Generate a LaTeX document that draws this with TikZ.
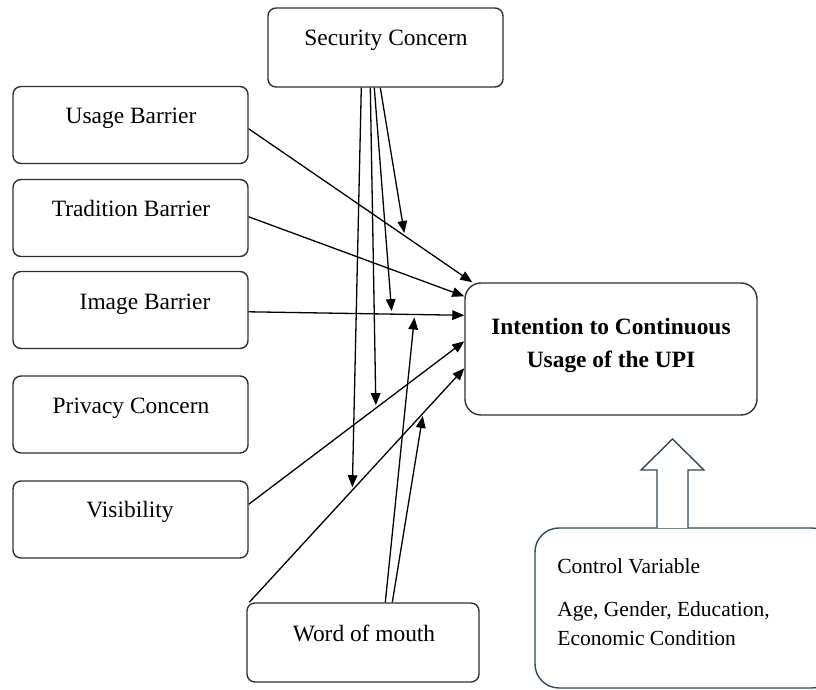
\documentclass[tikz,border=0pt]{standalone}
\usepackage{fontspec}
\setmainfont{Liberation Serif}
\usetikzlibrary{arrows.meta,calc}
\definecolor{slate}{HTML}{2F4858}
\definecolor{edge}{HTML}{303030}
\begin{document}
\begin{tikzpicture}[x=0.5pt,y=-0.5pt,
  box/.style={draw=edge, line width=0.7pt, rounded corners=4pt,
    minimum width=117.5pt, minimum height=38.5pt, inner sep=0pt},
  lbl/.style={inner sep=0pt, anchor=base, font=\fontsize{11.7pt}{14pt}\selectfont},
  arr/.style={-{Triangle[length=6pt,width=4.8pt]}, line width=0.65pt},
  stop/.style={shorten >=1.5pt}
]
\clip (0,0) rectangle (816,690);

% ---- source boxes ----
\node[box] (sec)    at (385.5,47.5) [minimum height=39.5pt] {};
\node[box] (usage)  at (130.5,125)   {};
\node[box] (trad)   at (130.5,218)   {};
\node[box] (image)  at (130.5,310)   {};
\node[box] (priv)   at (130.5,414.5) {};
\node[box] (visib)  at (130.5,519.5) {};
\node[box] (wom)    at (363,642.5) [minimum width=116pt, minimum height=39.5pt] {};

\node[lbl] (secT)   at (386,46)    {Security Concern};
\node[lbl] (usageT) at (131,124)   {Usage Barrier};
\node[lbl] (tradT)  at (131,217)   {Tradition Barrier};
\node[lbl] (imageT) at (145,310)   {Image Barrier};
\node[lbl] (privT)  at (131,414)   {Privacy Concern};
\node[lbl] (visibT) at (130,518)   {Visibility};
\node[lbl] (womT)   at (364,642)   {Word of mouth};

% ---- outcome box ----
\node[box, rounded corners=8pt, minimum width=146pt, minimum height=66pt]
  (intent) at (611,349) {};
\node[inner sep=0pt, anchor=north, align=center,
  font=\fontsize{11.7pt}{16.5pt}\selectfont\bfseries]
  (intentT) at (611,318) {Intention to Continuous\\Usage of the UPI};

% ---- control variables ----
\node[draw=slate, line width=0.7pt, rounded corners=12pt,
  minimum width=150.5pt, minimum height=80pt, inner sep=0pt]
  (ctrl) at (685.5,608) {};
\node[inner sep=0pt, anchor=north west, align=left,
  font=\fontsize{10.75pt}{14.5pt}\selectfont]
  (ctrlT) at (557,558.3) {Control Variable\\[7pt]Age, Gender, Education,\\Economic Condition};

% hollow block arrow from the control box up to the outcome
\coordinate (ab) at (672.5,528);
\draw[slate, line width=0.7pt, fill=white, line join=miter]
  ($(ab)+(-15.5,0)$) -- ($(ab)+(-15.5,-58)$) -- ($(ab)+(-31.5,-58)$)
  -- ($(ab)+(0,-89)$) -- ($(ab)+(31.5,-58)$) -- ($(ab)+(15.5,-58)$)
  -- ($(ab)+(15.5,0)$);

% ---- direct effects ----
\draw[arr] ($(usage.north east)+(0,43)$) -- coordinate[pos=0.698] (mU)
  ($(intent.north west)+(8,0)$);
\draw[arr] ($(trad.north east)+(0,38)$) -- ($(intent.north west)+(0,14)$);
\draw[arr] ($(image.north east)+(0,41)$) -- coordinate[pos=0.664] (mI)
  coordinate[pos=0.770] (mI2) ($(intent.north west)+(0,33)$);
\draw[arr] ($(visib.north east)+(0,24)$) -- coordinate[pos=0.590] (mV)
  ($(intent.north west)+(0,59)$);
\draw[arr] ($(wom.north west)+(3,0)$) -- coordinate[pos=0.479] (mW)
  coordinate[pos=0.809] (mW2) ($(intent.north west)+(0,86)$);

% ---- moderating effects ----
\draw[arr, stop] ($(sec.south west)+(94,0)$)  -- (mW);
\draw[arr, stop] ($(sec.south west)+(103,0)$) -- (mV);
\draw[arr, stop] ($(sec.south west)+(107,0)$) -- (mI);
\draw[arr, stop] ($(sec.south west)+(113,0)$) -- (mU);
\draw[arr, stop] ($(wom.north west)+(139,0)$) -- (mI2);
\draw[arr, stop] ($(wom.north west)+(146,0)$) -- (mW2);
\end{tikzpicture}
\end{document}
